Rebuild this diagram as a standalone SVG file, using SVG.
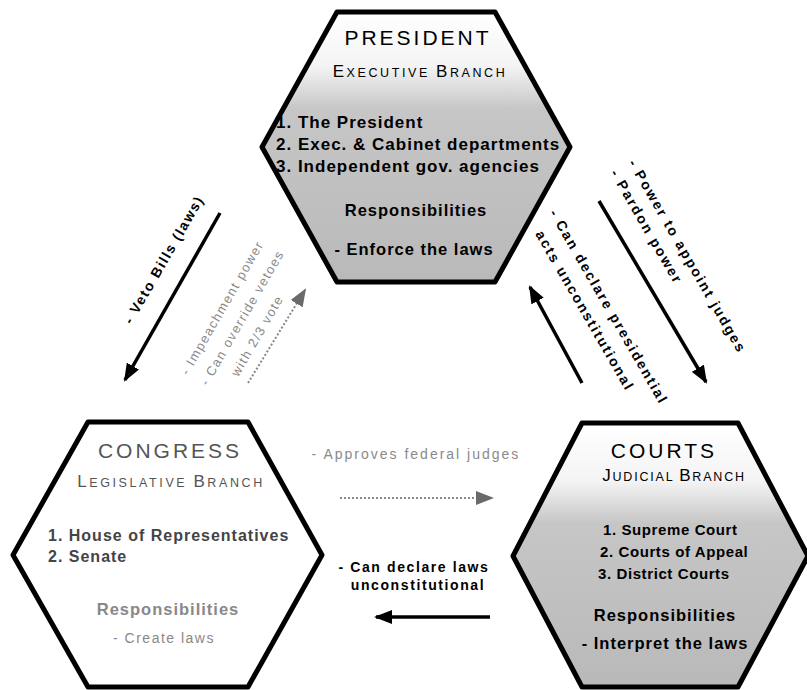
<svg xmlns="http://www.w3.org/2000/svg" width="807" height="690" viewBox="0 0 807 690">
<style>
text { font-family: "Liberation Sans", Arial, sans-serif; }
.title { font-size: 21px; letter-spacing: 3px; text-anchor: middle; }
.sub { text-anchor: middle; letter-spacing: 2.6px; }
.big { font-size: 17px; }
.sm { font-size: 12.5px; }
.list { font-size: 17px; font-weight: bold; letter-spacing: 1px; }
.clist { font-size: 15px; font-weight: bold; letter-spacing: 0.6px; }
.resp { font-size: 16.5px; font-weight: bold; letter-spacing: 1px; text-anchor: middle; }
.hex { stroke: #000; stroke-width: 5; stroke-linejoin: round; }
.lbl { font-size: 14px; font-weight: bold; letter-spacing: 1.6px; fill: #000; }
.rlbl { font-size: 14px; font-weight: bold; letter-spacing: 2px; fill: #000; }
.glbl { font-size: 13px; letter-spacing: 1.4px; fill: #8a8a8a; }
.solid { stroke: #000; stroke-width: 3.5; fill: none; marker-end: url(#ah); }
.dotted { stroke: #888; stroke-width: 2; stroke-dasharray: 2 2; fill: none; marker-end: url(#gh); }
</style>
<defs>
<linearGradient id="gP" x1="0" y1="0" x2="0" y2="1">
<stop offset="0" stop-color="#ffffff"/>
<stop offset="0.2" stop-color="#f4f4f4"/>
<stop offset="0.36" stop-color="#c6c6c6"/>
<stop offset="1" stop-color="#b9b9b9"/>
</linearGradient>
<linearGradient id="gC" x1="0" y1="0" x2="0" y2="1">
<stop offset="0" stop-color="#ffffff"/>
<stop offset="0.22" stop-color="#f4f4f4"/>
<stop offset="0.38" stop-color="#c6c6c6"/>
<stop offset="1" stop-color="#b9b9b9"/>
</linearGradient>
<marker id="ah" viewBox="0 0 18 14" refX="16" refY="7" markerWidth="18" markerHeight="14" markerUnits="userSpaceOnUse" orient="auto">
<path d="M0,0 L18,7 L0,14 Z" fill="#000"/>
</marker>
<marker id="gh" viewBox="0 0 18 14" refX="16" refY="7" markerWidth="18" markerHeight="14" markerUnits="userSpaceOnUse" orient="auto">
<path d="M0,0 L18,7 L0,14 Z" fill="#6a6a6a"/>
</marker>
</defs>

<g id="president">
<polygon class="hex" fill="url(#gP)" points="337,12 495,12 570,147 495,282 337,282 262,147"/>
<text class="title" x="418" y="45">PRESIDENT</text>
<text class="sub" x="420" y="77"><tspan class="big">E</tspan><tspan class="sm">XECUTIVE </tspan><tspan class="big">B</tspan><tspan class="sm">RANCH</tspan></text>
<text class="list" x="276" y="128">1. The President</text>
<text class="list" x="276" y="150">2. Exec. &amp; Cabinet departments</text>
<text class="list" x="276" y="172">3. Independent gov. agencies</text>
<text class="resp" x="416" y="216">Responsibilities</text>
<text class="resp" x="414" y="255">- Enforce the laws</text>
</g>

<g id="congress">
<polygon class="hex" fill="#fff" points="88,422 248,422 322,555 248,687 88,687 13,555"/>
<text class="title" x="170" y="458" fill="#555">CONGRESS</text>
<text class="sub" x="171" y="487" fill="#555"><tspan class="big">L</tspan><tspan class="sm">EGISLATIVE </tspan><tspan class="big">B</tspan><tspan class="sm">RANCH</tspan></text>
<text class="clist" x="48" y="541" fill="#444" style="font-size:16px;letter-spacing:1px">1. House of Representatives</text>
<text class="clist" x="48" y="562" fill="#444" style="font-size:16px;letter-spacing:1px">2. Senate</text>
<text class="resp" x="168" y="615" fill="#888">Responsibilities</text>
<text x="164" y="643" fill="#888" style="font-size:14px;letter-spacing:1.5px;text-anchor:middle">- Create laws</text>
</g>

<g id="courts">
<polygon class="hex" fill="url(#gC)" points="582,423 738,423 808,556 738,687 582,687 513,556"/>
<text class="title" x="664" y="458">COURTS</text>
<text class="sub" x="674" y="481" style="letter-spacing:1.8px"><tspan class="big">J</tspan><tspan class="sm">UDICIAL </tspan><tspan class="big">B</tspan><tspan class="sm">RANCH</tspan></text>
<text class="clist" x="603" y="535">1. Supreme Court</text>
<text class="clist" x="600" y="557">2. Courts of Appeal</text>
<text class="clist" x="598" y="579">3. District Courts</text>
<text class="resp" x="665" y="621">Responsibilities</text>
<text class="resp" x="665" y="649">- Interpret the laws</text>
</g>

<g id="connectors">
<line class="solid" x1="220" y1="213" x2="125" y2="380"/>
<text class="lbl" text-anchor="middle" transform="translate(168,262) rotate(-60)">- Veto Bills (laws)</text>

<line class="dotted" x1="248" y1="383" x2="305" y2="290"/>
<text class="glbl" text-anchor="middle" transform="translate(226,310) rotate(-60)">- Impeachment power</text>
<text class="glbl" text-anchor="middle" transform="translate(246,320) rotate(-60)">- Can override vetoes</text>
<text class="glbl" text-anchor="middle" transform="translate(261,338) rotate(-60)">with 2/3 vote</text>

<line class="solid" x1="599" y1="201" x2="706" y2="382"/>
<text class="rlbl" transform="translate(628,163) rotate(60)">- Power to appoint judges</text>
<text class="rlbl" transform="translate(610,173) rotate(60)">- Pardon power</text>

<line class="solid" x1="582" y1="383" x2="530" y2="287"/>
<text class="rlbl" transform="translate(549,213) rotate(60)">- Can declare presidential</text>
<text class="rlbl" transform="translate(535,234) rotate(60)">acts unconstitutional</text>

<text class="glbl" x="416" y="459" text-anchor="middle" style="font-size:14px;letter-spacing:2px">- Approves federal judges</text>
<line class="dotted" x1="340" y1="498" x2="492" y2="498"/>

<text class="lbl" x="414" y="572" text-anchor="middle">- Can declare laws</text>
<text class="lbl" x="418" y="590" text-anchor="middle">unconstitutional</text>
<line class="solid" x1="490" y1="617" x2="376" y2="617"/>
</g>
</svg>
